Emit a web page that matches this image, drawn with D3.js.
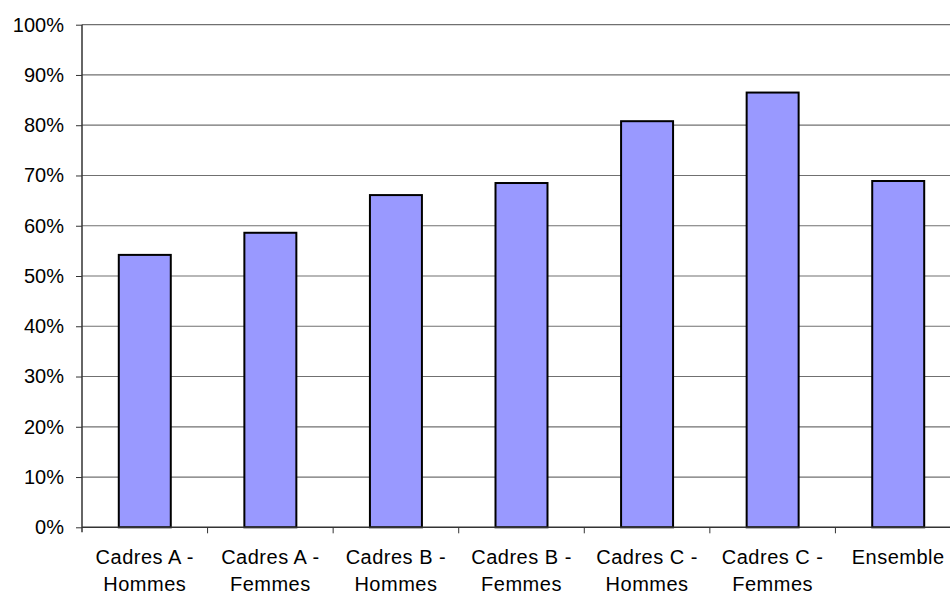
<!DOCTYPE html>
<html>
<head>
<meta charset="utf-8">
<script src="https://cdn.jsdelivr.net/npm/d3@7"></script>
<style>
  html, body { margin: 0; padding: 0; background: #fff; }
  svg { display: block; }
  text { font-family: "Liberation Sans", Arial, sans-serif; fill: #000; }
</style>
</head>
<body>
<svg id="chart" width="950" height="596"></svg>
<script>
// Category labels (two lines each) and their shares
const categories = [
  ["Cadres A -", "Hommes"],
  ["Cadres A -", "Femmes"],
  ["Cadres B -", "Hommes"],
  ["Cadres B -", "Femmes"],
  ["Cadres C -", "Hommes"],
  ["Cadres C -", "Femmes"],
  ["Ensemble"]
];
const values = [0.542, 0.586, 0.661, 0.685, 0.808, 0.865, 0.689];
const yTicks = [0, 0.1, 0.2, 0.3, 0.4, 0.5, 0.6, 0.7, 0.8, 0.9, 1.0];

const svg = d3.select("#chart");
const plotLeft = 82, plotRight = 961, plotTop = 24.7, plotBottom = 527.3;

const keys = categories.map((c, i) => i);
const x = d3.scaleBand().domain(keys).range([plotLeft, plotRight])
  .paddingInner(0.586).paddingOuter(0.293);
const xStep = d3.scaleBand().domain(keys).range([plotLeft, plotRight]).padding(0);
const y = d3.scaleLinear().domain([0, 1]).range([plotBottom, plotTop]);

// Horizontal gridlines
svg.append("g").selectAll("line").data(yTicks.filter(d => d > 0)).join("line")
  .attr("x1", plotLeft).attr("x2", plotRight)
  .attr("y1", d => y(d)).attr("y2", d => y(d))
  .attr("stroke", "#707070").attr("stroke-width", 1.2);

// Bars
svg.append("g").selectAll("rect").data(values).join("rect")
  .attr("x", (d, i) => x(i))
  .attr("width", x.bandwidth())
  .attr("y", d => y(d))
  .attr("height", d => y(0) - y(d))
  .attr("fill", "#9999FF")
  .attr("stroke", "#000")
  .attr("stroke-width", 2);

// Y axis
const yAxis = d3.axisLeft(y).tickValues(yTicks)
  .tickFormat(d3.format(".0%")).tickSize(6).tickPadding(12);
const gy = svg.append("g").attr("transform", `translate(${plotLeft},0)`).call(yAxis);
gy.select(".domain").attr("stroke", "#333").attr("stroke-width", 1.5)
  .attr("d", `M0,${plotTop}V${plotBottom + 5}`);
gy.selectAll(".tick line").attr("stroke", "#333");
gy.selectAll(".tick text")
  .style("font-family", "'Liberation Sans', Arial, sans-serif")
  .style("font-size", "20px").attr("fill", "#000");

// X axis line with ticks at category boundaries
const gx = svg.append("g");
gx.append("line").attr("x1", plotLeft).attr("x2", plotRight)
  .attr("y1", plotBottom).attr("y2", plotBottom)
  .attr("stroke", "#333").attr("stroke-width", 1.5);
gx.selectAll("line.tk").data(keys.slice(1)).join("line").attr("class", "tk")
  .attr("x1", i => xStep(i)).attr("x2", i => xStep(i))
  .attr("y1", plotBottom).attr("y2", plotBottom + 6)
  .attr("stroke", "#333");

// Category labels
const lbl = gx.selectAll("text.cat").data(categories).join("text").attr("class", "cat")
  .attr("text-anchor", "middle")
  .style("font-size", "20px")
  .style("letter-spacing", "0.5px");
lbl.each(function(lines, i) {
  const t = d3.select(this);
  lines.forEach((s, k) => {
    t.append("tspan")
      .attr("x", x(i) + x.bandwidth() / 2)
      .attr("y", 563.5 + k * 27)
      .text(s);
  });
});
</script>
</body>
</html>
